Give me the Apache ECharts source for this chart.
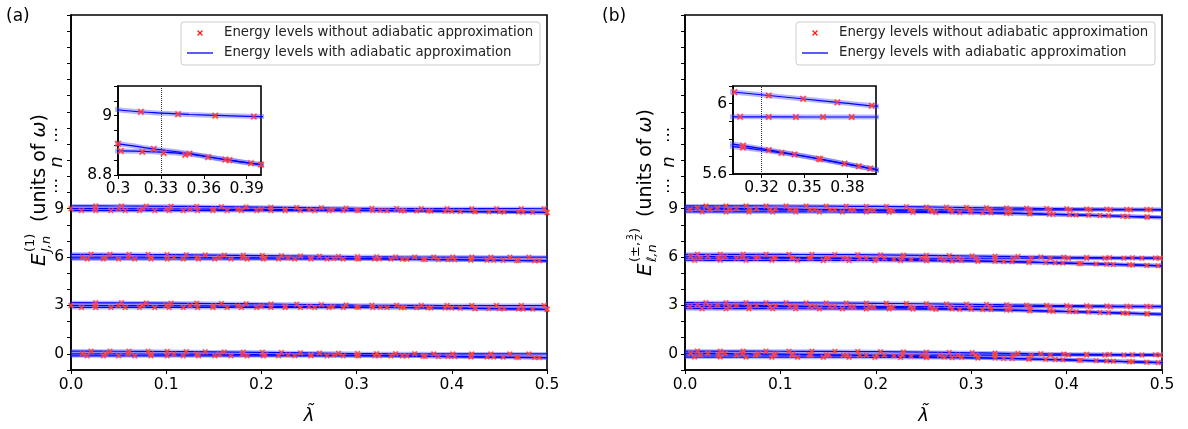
<!DOCTYPE html>
<html>
<head>
<meta charset="utf-8">
<script src="https://cdn.jsdelivr.net/npm/echarts@6/dist/echarts.min.js"></script>
<style>
  html, body { margin: 0; padding: 0; background: #fff; }
  #chart { width: 1188px; height: 429px; }
</style>
</head>
<body>
<div id="chart"></div>
<script>
// ---- data -------------------------------------------------------------
// Energy levels E = n + offset, n = 0, 3, 6, 9
const LEVELS = [0, 3, 6, 9];
// sampling pattern used by the exact (marker) points of each level
const LEVEL_PATTERN = ['Q', 'P', 'Q', 'P'];

// lambda knots of the adiabatic curves
const LAMBDA_KNOTS = [0, 0.05, 0.1, 0.15, 0.2, 0.25, 0.3, 0.325, 0.35, 0.375, 0.4, 0.45, 0.5];

// panel (a): adiabatic curves (offset from n)
const aTop = [0.17, 0.162, 0.145, 0.122, 0.093, 0.058, 0.02, 0.01, 0.004, 0.0, -0.003, -0.005, -0.006];
const aMid = [0, -0.005, -0.015, -0.03, -0.05, -0.07, -0.095, -0.112, -0.128, -0.148, -0.165, -0.2, -0.235];
const aLow = [-0.12, -0.12, -0.12, -0.12, -0.12, -0.12, -0.119, -0.122, -0.13, -0.148, -0.165, -0.2, -0.235];

// panel (b): adiabatic curves (offset from n)
const bTop = [0.17, 0.168, 0.162, 0.152, 0.135, 0.105, 0.066, 0.046, 0.026, 0.006, -0.014, -0.04, -0.06];
const bMid = [-0.07, -0.07, -0.071, -0.072, -0.073, -0.074, -0.075, -0.075, -0.076, -0.076, -0.076, -0.076, -0.075];
const bUp  = [0.05, 0.02, -0.017, -0.06, -0.111, -0.167, -0.23, -0.263, -0.299, -0.337, -0.375, -0.457, -0.546];
const bLow = [-0.2, -0.201, -0.204, -0.208, -0.215, -0.228, -0.245, -0.27, -0.299, -0.337, -0.375, -0.457, -0.546];

// panel (a): exact levels, pattern P
const aTopP_lam = [0.026, 0.053, 0.079, 0.105, 0.132, 0.158, 0.184, 0.21, 0.237, 0.263, 0.289, 0.316, 0.342, 0.368, 0.395, 0.421, 0.447, 0.473, 0.497];
const aTopP_off = [0.167, 0.161, 0.153, 0.143, 0.13, 0.118, 0.103, 0.087, 0.067, 0.048, 0.028, 0.013, 0.005, 0.0, -0.003, -0.004, -0.005, -0.006, -0.006];
const aMidP_lam = [0, 0.025, 0.05, 0.075, 0.1, 0.125, 0.15, 0.175, 0.2, 0.225, 0.25, 0.275, 0.3, 0.325, 0.35, 0.375, 0.4, 0.425, 0.45, 0.475, 0.5];
const aMidP_off = [0, -0.002, -0.005, -0.01, -0.015, -0.022, -0.03, -0.04, -0.05, -0.06, -0.07, -0.082, -0.095, -0.112, -0.128, -0.148, -0.165, -0.183, -0.2, -0.218, -0.235];
const aLowP_lam = [0.011, 0.026, 0.042, 0.057, 0.072, 0.088, 0.103, 0.118, 0.133, 0.149, 0.164, 0.179, 0.195, 0.21, 0.225, 0.241, 0.256, 0.271, 0.286, 0.302, 0.317, 0.332, 0.347, 0.363, 0.378, 0.393, 0.409, 0.424, 0.439, 0.455, 0.47, 0.485, 0.5];
const aLowP_off = [-0.12, -0.12, -0.12, -0.12, -0.12, -0.12, -0.12, -0.12, -0.12, -0.12, -0.12, -0.12, -0.12, -0.12, -0.12, -0.12, -0.12, -0.12, -0.12, -0.119, -0.122, -0.126, -0.132, -0.14, -0.15, -0.16, -0.171, -0.183, -0.193, -0.204, -0.214, -0.225, -0.235];

// panel (a): exact levels, pattern Q
const aTopQ_lam = [0.021, 0.041, 0.061, 0.081, 0.101, 0.121, 0.141, 0.161, 0.181, 0.201, 0.221, 0.241, 0.261, 0.281, 0.301, 0.321, 0.341, 0.361, 0.381, 0.401, 0.421, 0.441, 0.461, 0.481];
const aTopQ_off = [0.167, 0.163, 0.157, 0.151, 0.145, 0.136, 0.127, 0.117, 0.105, 0.093, 0.079, 0.065, 0.05, 0.034, 0.02, 0.012, 0.006, 0.002, -0.001, -0.003, -0.004, -0.005, -0.005, -0.006];
const aMidQ_lam = [0.012, 0.036, 0.06, 0.084, 0.108, 0.132, 0.156, 0.18, 0.204, 0.228, 0.252, 0.276, 0.3, 0.324, 0.348, 0.372, 0.396, 0.42, 0.444, 0.468, 0.492];
const aMidQ_off = [-0.001, -0.003, -0.007, -0.011, -0.017, -0.024, -0.032, -0.042, -0.052, -0.061, -0.071, -0.083, -0.095, -0.111, -0.127, -0.146, -0.162, -0.179, -0.196, -0.213, -0.23];
const aLowQ_lam = [0.017, 0.034, 0.05, 0.067, 0.084, 0.101, 0.118, 0.134, 0.151, 0.168, 0.185, 0.202, 0.218, 0.235, 0.252, 0.269, 0.286, 0.302, 0.319, 0.336, 0.353, 0.37, 0.386, 0.403, 0.42, 0.437, 0.454, 0.47, 0.487];
const aLowQ_off = [-0.12, -0.12, -0.12, -0.12, -0.12, -0.12, -0.12, -0.12, -0.12, -0.12, -0.12, -0.12, -0.12, -0.12, -0.12, -0.12, -0.12, -0.119, -0.122, -0.127, -0.131, -0.143, -0.156, -0.167, -0.179, -0.191, -0.203, -0.214, -0.226];

// panel (b): exact levels, pattern P
const bTopP_lam = [0.022, 0.043, 0.064, 0.085, 0.106, 0.127, 0.148, 0.169, 0.19, 0.211, 0.232, 0.253, 0.274, 0.295, 0.316, 0.337, 0.358, 0.379, 0.4, 0.421, 0.442, 0.463, 0.484];
const bTopP_off = [0.17, 0.168, 0.167, 0.164, 0.161, 0.158, 0.152, 0.146, 0.139, 0.13, 0.117, 0.103, 0.087, 0.07, 0.053, 0.036, 0.02, 0.003, -0.014, -0.025, -0.036, -0.046, -0.055];
const bMidP_lam = [0.005, 0.026, 0.047, 0.068, 0.089, 0.11, 0.131, 0.152, 0.173, 0.194, 0.215, 0.236, 0.257, 0.278, 0.299, 0.32, 0.341, 0.362, 0.383, 0.404, 0.425, 0.446, 0.467, 0.488];
const bMidP_off = [-0.07, -0.07, -0.07, -0.071, -0.071, -0.071, -0.072, -0.072, -0.072, -0.073, -0.073, -0.073, -0.074, -0.074, -0.075, -0.075, -0.076, -0.076, -0.076, -0.076, -0.076, -0.076, -0.076, -0.075];
const bUpP_lam = [0.013, 0.034, 0.054, 0.075, 0.095, 0.116, 0.136, 0.157, 0.177, 0.198, 0.218, 0.239, 0.259, 0.28, 0.3, 0.321, 0.341, 0.362, 0.382, 0.403, 0.423, 0.444, 0.464, 0.485];
const bUpP_off = [0.043, 0.03, 0.017, 0.002, -0.013, -0.031, -0.048, -0.067, -0.087, -0.109, -0.13, -0.154, -0.178, -0.204, -0.23, -0.258, -0.286, -0.317, -0.347, -0.38, -0.412, -0.447, -0.482, -0.519];
const bLowP_lam = [0.018, 0.043, 0.067, 0.092, 0.116, 0.141, 0.165, 0.19, 0.214, 0.239, 0.263, 0.288, 0.312, 0.337, 0.361, 0.386, 0.41, 0.435, 0.459, 0.484];
const bLowP_off = [-0.2, -0.201, -0.202, -0.203, -0.205, -0.207, -0.21, -0.214, -0.219, -0.226, -0.233, -0.241, -0.256, -0.289, -0.316, -0.353, -0.39, -0.431, -0.472, -0.516];

// panel (b): exact levels, pattern Q
const bTopQ_lam = [0.013, 0.037, 0.061, 0.085, 0.109, 0.133, 0.157, 0.181, 0.205, 0.229, 0.253, 0.277, 0.301, 0.325, 0.349, 0.373, 0.397, 0.421, 0.445, 0.469, 0.493];
const bTopQ_off = [0.17, 0.169, 0.167, 0.164, 0.161, 0.157, 0.15, 0.142, 0.132, 0.119, 0.103, 0.085, 0.065, 0.046, 0.027, 0.007, -0.012, -0.025, -0.038, -0.048, -0.058];
const bMidQ_lam = [0.016, 0.035, 0.054, 0.074, 0.093, 0.112, 0.132, 0.151, 0.17, 0.19, 0.209, 0.228, 0.248, 0.267, 0.286, 0.305, 0.325, 0.344, 0.363, 0.383, 0.402, 0.421, 0.44, 0.46, 0.479, 0.498];
const bMidQ_off = [-0.07, -0.07, -0.07, -0.071, -0.071, -0.071, -0.072, -0.072, -0.072, -0.073, -0.073, -0.073, -0.074, -0.074, -0.075, -0.075, -0.076, -0.076, -0.076, -0.076, -0.076, -0.076, -0.076, -0.076, -0.075, -0.075];
const bUpQ_lam = [0.006, 0.024, 0.042, 0.06, 0.077, 0.095, 0.113, 0.13, 0.148, 0.166, 0.183, 0.201, 0.219, 0.237, 0.254, 0.272, 0.29, 0.307, 0.325, 0.343, 0.36, 0.378, 0.396, 0.413, 0.431, 0.449, 0.466, 0.484];
const bUpQ_off = [0.047, 0.036, 0.025, 0.013, 0.0, -0.013, -0.028, -0.043, -0.059, -0.076, -0.093, -0.112, -0.131, -0.152, -0.172, -0.194, -0.217, -0.239, -0.264, -0.289, -0.314, -0.341, -0.369, -0.396, -0.426, -0.456, -0.485, -0.517];
const bLowQ_lam = [0.01, 0.037, 0.064, 0.091, 0.118, 0.145, 0.172, 0.199, 0.226, 0.253, 0.28, 0.307, 0.334, 0.361, 0.388, 0.415, 0.442, 0.469, 0.496];
const bLowQ_off = [-0.2, -0.2, -0.202, -0.203, -0.205, -0.207, -0.211, -0.215, -0.221, -0.229, -0.238, -0.25, -0.28, -0.316, -0.356, -0.4, -0.444, -0.49, -0.539];

// tick labels
const MAIN_X_TICKS = [0, 0.1, 0.2, 0.3, 0.4, 0.5];
const MAIN_Y_LABELS = [0, 3, 6, 9];
const INSET_A_Y_LABELS = [8.8, 9];
const INSET_B_Y_LABELS = [5.6, 6];
const INSET_B_X_TICKS = [0.32, 0.35, 0.38];
const INSET_A_MARK = 0.33;
const INSET_B_MARK = 0.32;

const LEGEND_EXACT = 'Energy levels without adiabatic approximation';
const LEGEND_ADIABATIC = 'Energy levels with adiabatic approximation';

// ---- styling ------------------------------------------------------------
const FONT = 'DejaVu Sans';
const BLUE = '#0000ff';
const RED = '#ff0000';
const X_SYMBOL = 'path://M0,1.5L1.5,0L5,3.5L8.5,0L10,1.5L6.5,5L10,8.5L8.5,10L5,6.5L1.5,10L0,8.5L3.5,5Z';
const X_POINTS = [[0,1.5],[1.5,0],[5,3.5],[8.5,0],[10,1.5],[6.5,5],[10,8.5],[8.5,10],[5,6.5],[1.5,10],[0,8.5],[3.5,5]];

const axisLine = { show: true, onZero: false, lineStyle: { color: '#000', width: 1.6 } };
const axisTick = { show: true, inside: false, length: 4, lineStyle: { color: '#000', width: 1 } };
const labelBase = { color: '#000', fontFamily: FONT, fontSize: 15.5 };

function near(list, v) { return list.some(t => Math.abs(t - v) < 1e-6); }
function fmtNum(v) { return String(Number(v.toFixed(3))); }

// ---- series builders ----------------------------------------------------
function curveSeries(xi, yi, curves, bandWidth) {
  const out = [];
  LEVELS.forEach(n => {
    curves.forEach(off => {
      const data = LAMBDA_KNOTS.map((x, i) => [x, n + off[i]]);
      out.push({
        type: 'line', xAxisIndex: xi, yAxisIndex: yi, data: data,
        smooth: 0.35, symbol: 'none', silent: true, z: 2,
        lineStyle: { color: '#4a4aff', width: bandWidth, opacity: 0.4 }
      });
      out.push({
        type: 'line', xAxisIndex: xi, yAxisIndex: yi, data: data,
        smooth: 0.35, symbol: 'none', silent: true, z: 3,
        lineStyle: { color: BLUE, width: 1.2 }
      });
    });
  });
  return out;
}

function markerSeries(xi, yi, rowsP, rowsQ, size, markX) {
  const data = [];
  LEVELS.forEach((n, li) => {
    const rows = LEVEL_PATTERN[li] === 'P' ? rowsP : rowsQ;
    rows.forEach(([lam, off]) => lam.forEach((x, k) => data.push([x, n + off[k]])));
  });
  const s = {
    type: 'scatter', xAxisIndex: xi, yAxisIndex: yi, data: data,
    symbol: X_SYMBOL, symbolSize: size, silent: true, z: 5,
    itemStyle: { color: RED, opacity: 0.95, borderColor: 'rgba(255,110,110,0.5)', borderWidth: 1.2 }
  };
  if (markX !== undefined) {
    s.markLine = {
      silent: true, symbol: ['none', 'none'], label: { show: false },
      lineStyle: { type: 'dotted', color: '#333', width: 1 },
      data: [{ xAxis: markX }]
    };
  }
  return s;
}

const aRowsP = [[aTopP_lam, aTopP_off], [aMidP_lam, aMidP_off], [aLowP_lam, aLowP_off]];
const aRowsQ = [[aTopQ_lam, aTopQ_off], [aMidQ_lam, aMidQ_off], [aLowQ_lam, aLowQ_off]];
const bRowsP = [[bTopP_lam, bTopP_off], [bMidP_lam, bMidP_off], [bUpP_lam, bUpP_off], [bLowP_lam, bLowP_off]];
const bRowsQ = [[bTopQ_lam, bTopQ_off], [bMidQ_lam, bMidQ_off], [bUpQ_lam, bUpQ_off], [bLowQ_lam, bLowQ_off]];

// ---- axes -----------------------------------------------------------------
function mainXAxis(gi) {
  return {
    type: 'value', gridIndex: gi, min: 0, max: 0.5, interval: 0.1,
    axisLine, axisTick, splitLine: { show: false },
    axisLabel: Object.assign({ margin: 7, showMaxLabel: true, showMinLabel: true,
      formatter: v => near(MAIN_X_TICKS, v) ? v.toFixed(1) : '' }, labelBase),
    name: 'λ\u0303', nameLocation: 'middle', nameGap: 37,
    nameTextStyle: { fontFamily: FONT, fontSize: 18, fontStyle: 'italic', color: '#000' }
  };
}
function mainYAxis(gi) {
  return {
    type: 'value', gridIndex: gi, min: -1, max: 21, interval: 1,
    axisLine, axisTick, splitLine: { show: false },
    axisLabel: Object.assign({ margin: 7, formatter: v => near(MAIN_Y_LABELS, v) ? String(v) : '' }, labelBase)
  };
}

const grid = [
  { left: 71, top: 15, width: 476, height: 355 },
  { left: 118, top: 86, width: 143, height: 89 },
  { left: 685, top: 15, width: 477, height: 355 },
  { left: 733, top: 86, width: 143, height: 88 }
].map(g => Object.assign({ show: true, borderColor: '#000', borderWidth: 1.6, backgroundColor: '#fff',
  containLabel: false, outerBoundsMode: 'none' }, g));

const xAxis = [
  mainXAxis(0),
  {
    type: 'value', gridIndex: 1, min: 0.3, max: 0.4, interval: 0.03,
    axisLine, axisTick, splitLine: { show: false },
    axisLabel: Object.assign({ margin: 6, formatter: v => fmtNum(v) }, labelBase)
  },
  mainXAxis(2),
  {
    type: 'value', gridIndex: 3, min: 0.3, max: 0.4,
    axisLine, splitLine: { show: false },
    axisTick: Object.assign({ customValues: INSET_B_X_TICKS }, axisTick),
    axisLabel: Object.assign({ margin: 6, customValues: INSET_B_X_TICKS, formatter: v => fmtNum(v) }, labelBase)
  }
];
const yAxis = [
  mainYAxis(0),
  {
    type: 'value', gridIndex: 1, min: 8.8, max: 9.1, interval: 0.05,
    axisLine, axisTick, splitLine: { show: false },
    axisLabel: Object.assign({ margin: 6, formatter: v => near(INSET_A_Y_LABELS, v) ? fmtNum(v) : '' }, labelBase)
  },
  mainYAxis(2),
  {
    type: 'value', gridIndex: 3, min: 5.6, max: 6.1, interval: 0.1,
    axisLine, axisTick, splitLine: { show: false },
    axisLabel: Object.assign({ margin: 6, formatter: v => near(INSET_B_Y_LABELS, v) ? fmtNum(v) : '' }, labelBase)
  }
];

const series = [].concat(
  curveSeries(0, 0, [aTop, aMid, aLow], 4),
  [markerSeries(0, 0, aRowsP, aRowsQ, 5)],
  curveSeries(1, 1, [aTop, aMid, aLow], 5),
  [markerSeries(1, 1, aRowsP, aRowsQ, 6, INSET_A_MARK)],
  curveSeries(2, 2, [bTop, bMid, bUp, bLow], 4),
  [markerSeries(2, 2, bRowsP, bRowsQ, 5)],
  curveSeries(3, 3, [bTop, bMid, bUp, bLow], 5),
  [markerSeries(3, 3, bRowsP, bRowsQ, 6, INSET_B_MARK)]
);

// ---- text decorations ---------------------------------------------------
function txt(x, y, text, font, extra) {
  return { type: 'text', x, y, silent: true,
    style: Object.assign({ text, font, fill: '#000', align: 'left', verticalAlign: 'middle' }, extra || {}) };
}

function legend(x, y) {
  const cx = x + 19, cy = y + 11, s = 0.55;
  return [
    { type: 'rect', silent: true, shape: { x, y, width: 359, height: 43, r: 3 },
      style: { fill: 'rgba(255,255,255,0.85)', stroke: '#cccccc', lineWidth: 1 } },
    { type: 'polygon', silent: true,
      shape: { points: X_POINTS.map(([px, py]) => [cx + (px - 5) * s, cy + (py - 5) * s]) },
      style: { fill: RED, stroke: 'rgba(255,110,110,0.5)', lineWidth: 1 } },
    { type: 'line', silent: true, shape: { x1: x + 6, y1: y + 31, x2: x + 32, y2: y + 31 },
      style: { stroke: BLUE, lineWidth: 1.3 } },
    txt(x + 43, y + 11, LEGEND_EXACT, '13.3px ' + FONT, { fill: '#222' }),
    txt(x + 43, y + 31, LEGEND_ADIABATIC, '13.3px ' + FONT, { fill: '#222' })
  ];
}

function unitsText(x) {
  return { type: 'text', x: x, y: 0, silent: true, style: {
    text: '{r|(units of }{i|ω}{r|)}', align: 'left', verticalAlign: 'middle',
    rich: {
      r: { fontFamily: FONT, fontSize: 19, fill: '#000' },
      i: { fontFamily: FONT, fontSize: 19, fontStyle: 'italic', fill: '#000' }
    }
  } };
}

const nameA = {
  type: 'group', x: 40, y: 266, rotation: Math.PI / 2, silent: true,
  children: [
    txt(0, 0, 'E', 'italic 20px ' + FONT),
    txt(14, -9, '(1)', '13px ' + FONT),
    txt(14, 7, 'J,n', 'italic 13px ' + FONT),
    unitsText(44)
  ]
};

const nameB = {
  type: 'group', x: 646, y: 276, rotation: Math.PI / 2, silent: true,
  children: [
    txt(0, 0, 'E', 'italic 20px ' + FONT),
    txt(14, -10, '(±,', '13px ' + FONT),
    txt(36, -15, '3', '9px ' + FONT),
    { type: 'line', silent: true, shape: { x1: 35.5, y1: -10.5, x2: 42, y2: -10.5 }, style: { stroke: '#000', lineWidth: 0.7 } },
    txt(36, -6, '2', '9px ' + FONT),
    txt(43, -10, ')', '13px ' + FONT),
    txt(14, 7, 'ℓ,n', 'italic 13px ' + FONT),
    unitsText(59)
  ]
};

function dots(x) {
  return {
    type: 'group', x: x, y: 0, rotation: Math.PI / 2, silent: true,
    children: [
      txt(-186, 0, '⋯', '16px ' + FONT, { align: 'center' }),
      txt(-162, 0, 'n', 'italic 18px ' + FONT, { align: 'center' }),
      txt(-135, 0, '⋯', '16px ' + FONT, { align: 'center' })
    ]
  };
}

const graphic = [].concat(
  [txt(6, 17, '(a)', '17px ' + FONT), txt(602, 17, '(b)', '17px ' + FONT)],
  legend(181, 22),
  legend(796, 22),
  [nameA, nameB, dots(57), dots(669)]
);

const chart = echarts.init(document.getElementById('chart'), null, { renderer: 'canvas' });
chart.setOption({
  animation: false,
  backgroundColor: '#fff',
  textStyle: { fontFamily: FONT },
  grid, xAxis, yAxis, series, graphic
});
</script>
</body>
</html>
